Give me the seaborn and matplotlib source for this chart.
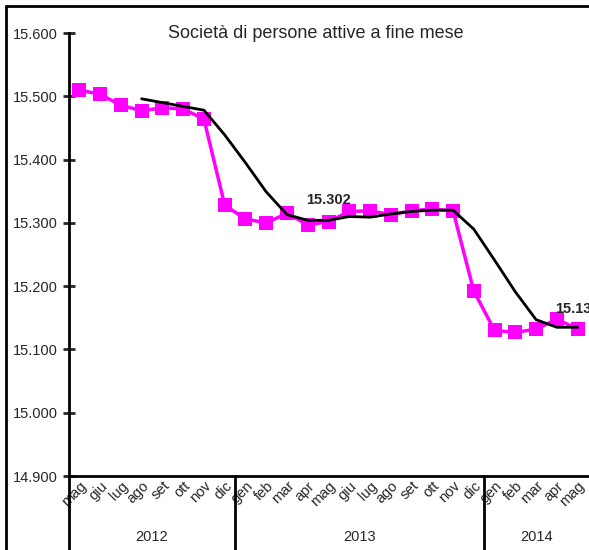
import numpy as np
import pandas as pd
import seaborn as sns
import matplotlib.pyplot as plt
from matplotlib.lines import Line2D

months = ['mag', 'giu', 'lug', 'ago', 'set', 'ott', 'nov', 'dic',
          'gen', 'feb', 'mar', 'apr', 'mag', 'giu', 'lug', 'ago', 'set', 'ott', 'nov', 'dic',
          'gen', 'feb', 'mar', 'apr', 'mag']
years = ['2012', '2013', '2014']
year_spans = [(0, 7), (8, 19), (20, 24)]

attive = [15.510, 15.503, 15.486, 15.477, 15.482, 15.480, 15.464, 15.328,
          15.306, 15.300, 15.315, 15.297, 15.302, 15.318, 15.319, 15.313, 15.319, 15.322, 15.319, 15.192,
          15.130, 15.127, 15.132, 15.148, 15.132]
trend = [np.nan, np.nan, np.nan, 15.496, 15.490, 15.484, 15.478, 15.439,
         15.395, 15.349, 15.313, 15.304, 15.304, 15.310, 15.309, 15.314, 15.318, 15.320, 15.320, 15.290,
         15.241, 15.191, 15.147, 15.135, 15.135]

df = pd.DataFrame({'idx': range(len(months)), 'attive': attive, 'trend': trend})

sns.set_style('white')
plt.rcParams['font.family'] = ['Liberation Sans', 'DejaVu Sans']

fig = plt.figure(figsize=(5.89, 5.5), dpi=100)
ax = fig.add_axes([69 / 589, 74 / 550, 519 / 589, 443 / 550])

sns.lineplot(data=df, x='idx', y='attive', color='#ff00ff', lw=2.5, marker='s',
             markersize=10, markeredgewidth=0, ax=ax, zorder=2)
sns.lineplot(data=df.dropna(), x='idx', y='trend', color='black', lw=2, ax=ax, zorder=3)

ax.set_xlim(-0.5, len(months) - 0.5)
ax.set_ylim(14.9, 15.6)
yt = np.arange(14.9, 15.61, 0.1)
ax.set_yticks(yt)
ax.set_yticklabels([f'{v:.3f}' for v in yt], fontsize=10.5)
ax.tick_params(axis='y', direction='inout', length=8, width=2, pad=4, left=True)
ax.set_xticks(range(len(months)))
ax.set_xticklabels(months, rotation=45, ha='right', rotation_mode='anchor', fontsize=10.5)
ax.tick_params(axis='x', length=0, pad=2)
ax.set_xlabel('')
ax.set_ylabel('')
for s in ['top', 'right']:
    ax.spines[s].set_visible(False)
for s in ['left', 'bottom']:
    ax.spines[s].set_linewidth(2)
    ax.spines[s].set_color('black')

# year separators and labels
tr = ax.get_xaxis_transform()
for (a, b), yr in zip(year_spans, years):
    ax.plot([a - 0.5, a - 0.5], [0, -0.2], color='black', lw=2, transform=tr, clip_on=False)
    ax.text((a + b) / 2, -0.138, yr, transform=tr, ha='center', va='center', fontsize=10.5)

ax.text(12, 15.336, f'{attive[12]:.3f}', ha='center', va='center', fontsize=10.5, fontweight='bold')
ax.text(24, 15.164, f'{attive[24]:.3f}', ha='center', va='center', fontsize=10.5, fontweight='bold',
        clip_on=False)

fig.text(316 / 589, 1 - 33 / 550, 'Società di persone attive a fine mese', ha='center', va='center',
         fontsize=13)

# outer frame
fig.add_artist(Line2D([6 / 589, 6 / 589], [0, 1 - 6 / 550], color='black', lw=2))
fig.add_artist(Line2D([6 / 589, 1], [1 - 6 / 550, 1 - 6 / 550], color='black', lw=2))

fig.savefig('out.png', dpi=100)
